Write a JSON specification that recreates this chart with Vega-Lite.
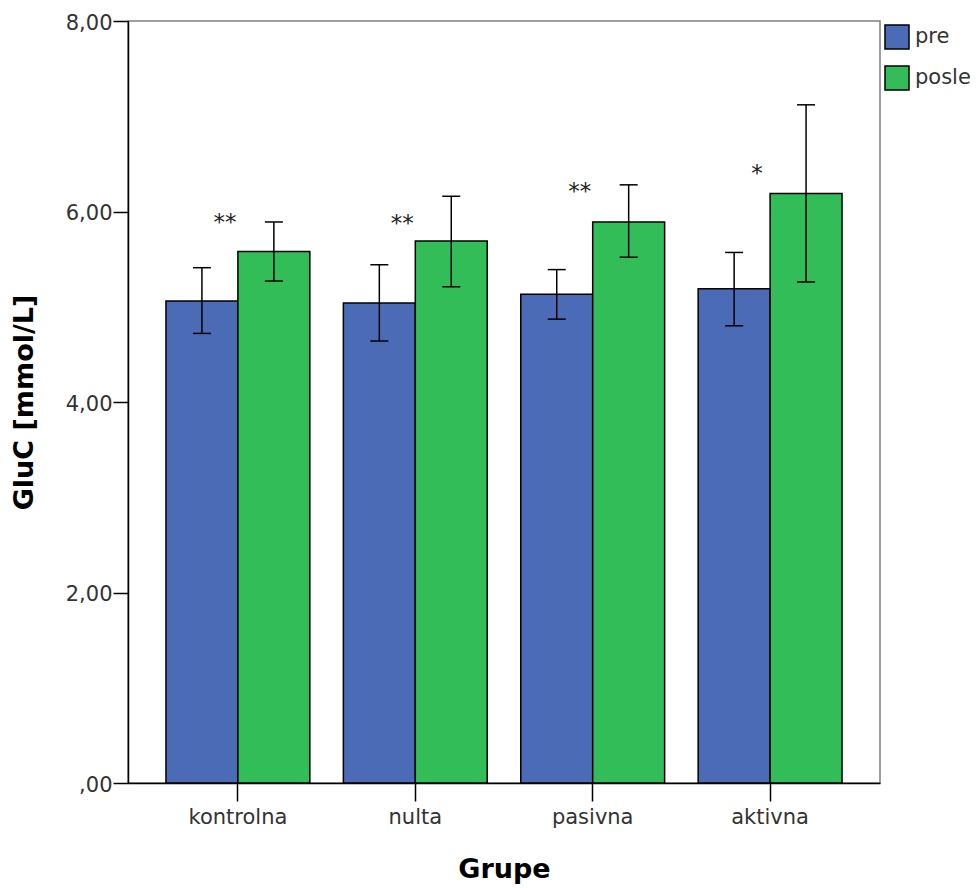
{
  "$schema": "https://vega.github.io/schema/vega-lite/v6.json",
  "width": 752,
  "height": 762,
  "autosize": {"type": "none"},
  "padding": {"left": 128, "top": 21, "right": 98, "bottom": 105},
  "background": "white",
  "config": {
    "font": "DejaVu Sans",
    "view": {"stroke": "#808080", "strokeWidth": 1.5}
  },
  "datasets": {
    "bars": [
      {"grupa": "kontrolna", "vreme": "pre", "mean": 5.06, "lo": 4.72, "hi": 5.41},
      {"grupa": "kontrolna", "vreme": "posle", "mean": 5.58, "lo": 5.27, "hi": 5.89},
      {"grupa": "nulta", "vreme": "pre", "mean": 5.04, "lo": 4.64, "hi": 5.44},
      {"grupa": "nulta", "vreme": "posle", "mean": 5.69, "lo": 5.21, "hi": 6.16},
      {"grupa": "pasivna", "vreme": "pre", "mean": 5.13, "lo": 4.87, "hi": 5.39},
      {"grupa": "pasivna", "vreme": "posle", "mean": 5.89, "lo": 5.52, "hi": 6.28},
      {"grupa": "aktivna", "vreme": "pre", "mean": 5.19, "lo": 4.80, "hi": 5.57},
      {"grupa": "aktivna", "vreme": "posle", "mean": 6.19, "lo": 5.26, "hi": 7.12}
    ],
    "znacajnost": [
      {"grupa": "kontrolna", "oznaka": "**", "y": 5.81},
      {"grupa": "nulta", "oznaka": "**", "y": 5.80},
      {"grupa": "pasivna", "oznaka": "**", "y": 6.13},
      {"grupa": "aktivna", "oznaka": "*", "y": 6.32}
    ]
  },
  "encoding": {
    "x": {
      "field": "grupa",
      "type": "nominal",
      "sort": ["kontrolna", "nulta", "pasivna", "aktivna"],
      "scale": {"paddingInner": 0.189, "paddingOuter": 0.214},
      "axis": {
        "title": "Grupe",
        "titleFontSize": 27,
        "titleFontWeight": "bold",
        "titleColor": "black",
        "titlePadding": 29,
        "labelAngle": 0,
        "labelFontSize": 21,
        "labelColor": "#333333",
        "labelPadding": 5,
        "tickSize": 18,
        "tickColor": "black",
        "tickWidth": 1.5,
        "domainColor": "black",
        "domainWidth": 1.5
      }
    }
  },
  "layer": [
    {
      "data": {"name": "bars"},
      "mark": {"type": "bar", "stroke": "black", "strokeWidth": 1.5},
      "encoding": {
        "xOffset": {"field": "vreme", "type": "nominal", "sort": ["pre", "posle"], "scale": {"paddingInner": 0, "paddingOuter": 0}},
        "y": {
          "field": "mean",
          "type": "quantitative",
          "scale": {"domain": [0, 8], "nice": false},
          "axis": {
            "title": "GluC [mmol/L]",
            "titleFontSize": 27,
            "titleFontWeight": "bold",
            "titleColor": "black",
            "titlePadding": 27,
            "values": [0, 2, 4, 6, 8],
            "labelExpr": "datum.value == 0 ? ',00' : replace(format(datum.value, '.2f'), '.', ',')",
            "labelFontSize": 21,
            "labelColor": "#333333",
            "labelPadding": 1,
            "labelOffset": 2,
            "tickSize": 15,
            "tickColor": "black",
            "tickWidth": 1.5,
            "domainColor": "black",
            "domainWidth": 1.5,
            "grid": false
          }
        },
        "color": {
          "field": "vreme",
          "type": "nominal",
          "scale": {"domain": ["pre", "posle"], "range": ["#4b6bb7", "#33bd58"]},
          "legend": {
            "title": null,
            "orient": "none",
            "legendX": 756,
            "legendY": 3,
            "symbolType": "square",
            "symbolSize": 576,
            "symbolStrokeColor": "black",
            "symbolStrokeWidth": 1.5,
            "symbolOpacity": 1,
            "labelFontSize": 21,
            "labelColor": "#333333",
            "labelOffset": 5,
            "rowPadding": 11
          }
        }
      }
    },
    {
      "data": {"name": "bars"},
      "mark": {"type": "rule", "color": "black", "strokeWidth": 1.5},
      "encoding": {
        "xOffset": {"field": "vreme", "type": "nominal", "sort": ["pre", "posle"]},
        "y": {"field": "lo", "type": "quantitative"},
        "y2": {"field": "hi"}
      }
    },
    {
      "data": {"name": "bars"},
      "mark": {"type": "tick", "color": "black", "size": 18, "thickness": 1.5, "opacity": 1},
      "encoding": {
        "xOffset": {"field": "vreme", "type": "nominal", "sort": ["pre", "posle"]},
        "y": {"field": "hi", "type": "quantitative"}
      }
    },
    {
      "data": {"name": "bars"},
      "mark": {"type": "tick", "color": "black", "size": 18, "thickness": 1.5, "opacity": 1},
      "encoding": {
        "xOffset": {"field": "vreme", "type": "nominal", "sort": ["pre", "posle"]},
        "y": {"field": "lo", "type": "quantitative"}
      }
    },
    {
      "data": {"name": "znacajnost"},
      "mark": {"type": "text", "fontSize": 23, "color": "#222222", "dx": -13, "baseline": "alphabetic"},
      "encoding": {
        "y": {"field": "y", "type": "quantitative"},
        "text": {"field": "oznaka"}
      }
    }
  ]
}
